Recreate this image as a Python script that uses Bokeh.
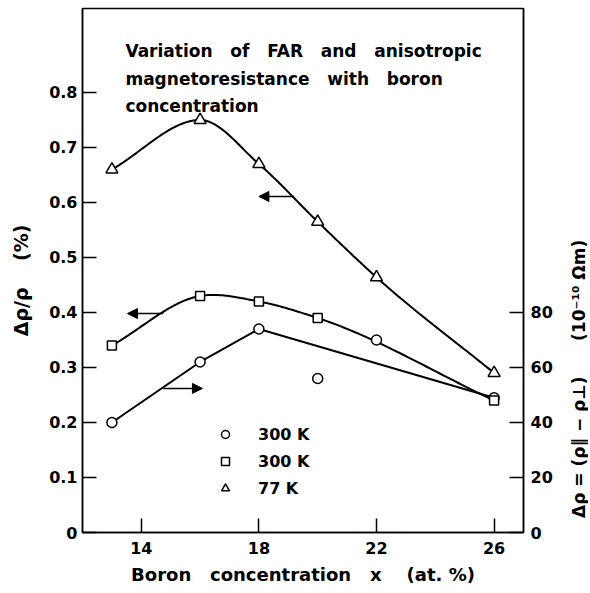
import numpy as np
from bokeh.plotting import figure
from bokeh.layouts import row
from bokeh.models import (Range1d, LinearAxis, FixedTicker, CustomJSTickFormatter,
                          Arrow, NormalHead, Label, Legend, LegendItem)
from bokeh.embed import file_html
from bokeh.resources import INLINE

# ---------------- data ----------------
# FAR (Δρ = ρ∥ − ρ⊥, 10^-10 Ωm, right axis), 300 K, circles
far_300K_x = [13, 16, 18, 20, 22, 26]
far_300K = [40, 62, 74, 56, 70, 49]
far_curve_points = [0, 1, 2, 5]          # points the drawn curve passes through

# anisotropic magnetoresistance Δρ/ρ (%), left axis
amr_300K_x = [13, 16, 18, 20, 26]
amr_300K = [0.34, 0.43, 0.42, 0.39, 0.24]
amr_77K_x = [13, 16, 18, 20, 22, 26]
amr_77K = [0.66, 0.75, 0.67, 0.565, 0.464, 0.29]

x_ticks = [14, 18, 22, 26]
left_ticks = [0, 0.1, 0.2, 0.3, 0.4, 0.5, 0.6, 0.7, 0.8]
right_ticks = [0, 20, 40, 60, 80]
legend_labels = ["300 K", "300 K", "77 K"]
SP = "\u00a0"
title_lines = [(SP * 3).join(["Variation", "of", "FAR", "and", "anisotropic"]),
               (SP * 3).join(["magnetoresistance", "with", "boron"]),
               "concentration"]
x_label = "Boron" + SP * 3 + "concentration" + SP * 3 + "x" + SP * 4 + "(at." + SP + "%)"
left_label = "\u0394\u03c1/\u03c1" + SP * 4 + "(%)" + SP * 3
right_label = ("\u0394\u03c1" + SP + "=" + SP + "(\u03c1\u2016" + SP + "\u2212" + SP + "\u03c1\u22a5)"
               + SP * 6 + "(10\u207b\u00b9\u2070" + SP + "\u03a9m)")

FONT = "DejaVu Sans"
Y_MAX = 0.9527
RIGHT_SCALE = 200.0
H = 590


def smooth(xs, ys, n=40, flat_extrema=False):
    xs = np.asarray(xs, float)
    ys = np.asarray(ys, float)
    m = np.gradient(ys, xs)
    if flat_extrema:
        d = np.diff(ys) / np.diff(xs)
        for i in range(1, len(xs) - 1):
            if d[i - 1] * d[i] < 0:
                m[i] = 0.0
    ox, oy = [], []
    for i in range(len(xs) - 1):
        h = xs[i + 1] - xs[i]
        t = np.linspace(0, 1, n)
        h00 = 2 * t**3 - 3 * t**2 + 1
        h10 = t**3 - 2 * t**2 + t
        h01 = -2 * t**3 + 3 * t**2
        h11 = t**3 - t**2
        ox.extend(xs[i] + t * h)
        oy.extend(h00 * ys[i] + h10 * h * m[i] + h01 * ys[i + 1] + h11 * h * m[i + 1])
    return ox, oy


p = figure(width=566, height=H, x_range=Range1d(12, 27), y_range=Range1d(0, Y_MAX),
           output_backend="svg", toolbar_location=None,
           min_border_left=82, min_border_right=43, min_border_top=8, min_border_bottom=58)
p.extra_y_ranges = {"right": Range1d(0, Y_MAX * RIGHT_SCALE)}
p.xgrid.visible = False
p.ygrid.visible = False
p.outline_line_color = "black"
p.outline_line_width = 1.5
p.background_fill_color = "white"
p.border_fill_color = "white"


def style_axis(ax, standoff, label_standoff, label_size):
    ax.axis_line_color = "black"
    ax.axis_line_width = 1.5
    ax.major_tick_line_color = "black"
    ax.major_tick_line_width = 1.5
    ax.major_tick_in = 14
    ax.major_tick_out = 0
    ax.minor_tick_line_color = None
    ax.major_label_text_font = FONT
    ax.major_label_text_font_size = "16px"
    ax.major_label_text_font_style = "bold"
    ax.major_label_text_color = "black"
    ax.major_label_standoff = standoff
    ax.axis_label_text_font = FONT
    ax.axis_label_text_font_size = label_size
    ax.axis_label_text_font_style = "bold"
    ax.axis_label_text_color = "black"
    ax.axis_label_standoff = label_standoff


xa = p.xaxis[0]
xa.ticker = FixedTicker(ticks=x_ticks)
xa.axis_label = x_label
style_axis(xa, 9, 7, "18px")

ya = p.yaxis[0]
ya.ticker = FixedTicker(ticks=left_ticks)
ya.formatter = CustomJSTickFormatter(code="return tick == 0 ? '0' : tick.toFixed(1);")
ya.axis_label = left_label
style_axis(ya, 5, 14, "19px")

ra = LinearAxis(y_range_name="right", ticker=FixedTicker(ticks=right_ticks))
style_axis(ra, 7, 0, "17px")
p.add_layout(ra, "right")

# ---------------- curves ----------------
cx, cy = smooth(amr_77K_x, amr_77K, flat_extrema=True)
p.line(cx, cy, line_color="black", line_width=2)
cx, cy = smooth(amr_300K_x, amr_300K)
p.line(cx, cy, line_color="black", line_width=2)
p.line([far_300K_x[i] for i in far_curve_points], [far_300K[i] for i in far_curve_points],
       y_range_name="right", line_color="black", line_width=2)

# ---------------- markers ----------------
r_circ = p.scatter(far_300K_x, far_300K, y_range_name="right", marker="circle", size=10,
                   fill_color="white", line_color="black", line_width=1.5)
r_sq = p.scatter(amr_300K_x, amr_300K, marker="square", size=9,
                 fill_color="white", line_color="black", line_width=1.5)
r_tri = p.scatter(amr_77K_x, amr_77K, marker="triangle", size=12,
                  fill_color="white", line_color="black", line_width=1.5)

# ---------------- arrows ----------------
for xs, ys, xe, ye in [(19.2, 0.611, 18.0, 0.611), (14.75, 0.398, 13.53, 0.398),
                       (14.75, 0.262, 16.08, 0.262)]:
    p.add_layout(Arrow(end=NormalHead(size=10, line_color="black", fill_color="black"),
                       x_start=xs, y_start=ys, x_end=xe, y_end=ye,
                       line_color="black", line_width=1.5))

# ---------------- legend ----------------
legend = Legend(items=[LegendItem(label=legend_labels[0], renderers=[r_circ]),
                       LegendItem(label=legend_labels[1], renderers=[r_sq]),
                       LegendItem(label=legend_labels[2], renderers=[r_tri])],
                location=(133, 34), glyph_width=20, glyph_height=20, label_standoff=23,
                spacing=7, padding=0, margin=0, border_line_color=None,
                background_fill_alpha=0, label_text_font=FONT, label_text_font_size="16px",
                label_text_font_style="bold", label_text_color="black", label_height=20)
p.add_layout(legend, "center")

# ---------------- texts ----------------
for txt, yb in zip(title_lines, [0.876, 0.824, 0.776]):
    p.add_layout(Label(x=13.46, y=yb, text=txt, text_font=FONT, text_font_size="17px",
                       text_font_style="bold", text_baseline="alphabetic",
                       text_align="left", text_color="black"))

# ---------------- right-hand axis title (separate narrow strip) ----------------
p2 = figure(width=22, height=H, x_range=Range1d(0, 22), y_range=Range1d(0, H),
            output_backend="svg", toolbar_location=None,
            min_border_left=0, min_border_right=0, min_border_top=0, min_border_bottom=0)
p2.axis.visible = False
p2.grid.visible = False
p2.outline_line_color = None
p2.background_fill_color = "white"
p2.border_fill_color = "white"
p2.add_layout(Label(x=12, y=H - 417, angle=np.pi / 2, text=right_label, text_font=FONT,
                    text_font_size="17px", text_font_style="bold", text_align="center",
                    text_baseline="middle", text_color="black"))

open("out.html", "w").write(file_html(row(p, p2, spacing=0), INLINE))
